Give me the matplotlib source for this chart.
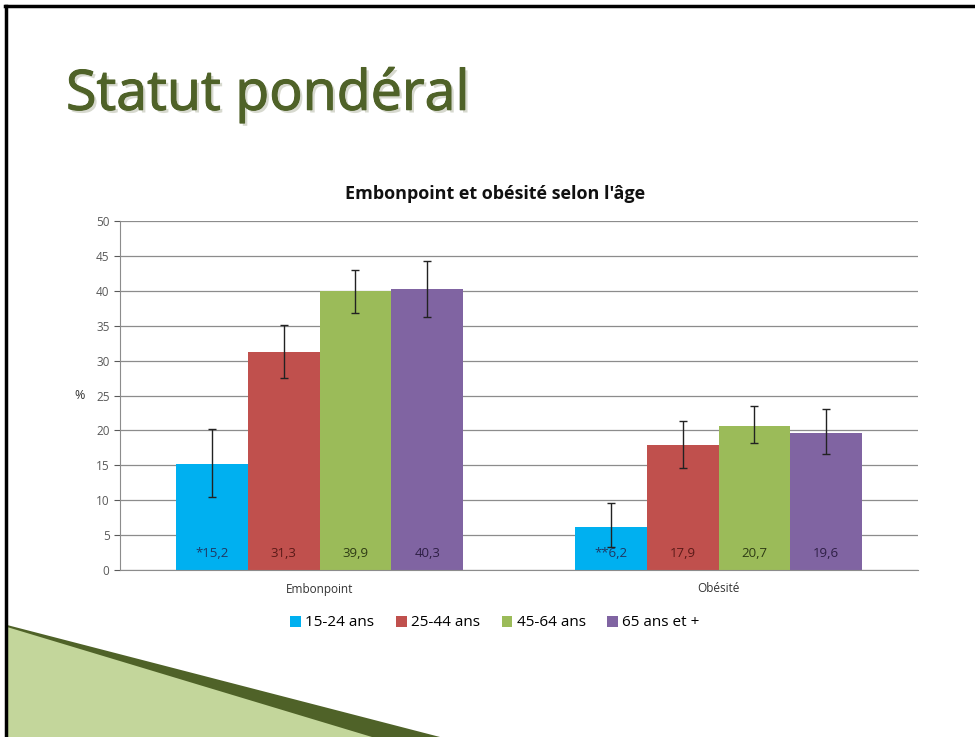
import matplotlib.pyplot as plt
import matplotlib.patheffects as pe
from matplotlib.patches import Polygon
import numpy as np

# ------------------------------
# Data
# ------------------------------
categories = ["Embonpoint", "Obésité"]
age_groups = ["15-24 ans", "25-44 ans", "45-64 ans", "65 ans et +"]

values = {
    "15-24 ans": [15.2, 6.2],
    "25-44 ans": [31.3, 17.9],
    "45-64 ans": [39.9, 20.7],
    "65 ans et +": [40.3, 19.6],
}
# confidence interval bounds (low, high)
ci_low = {
    "15-24 ans": [10.4, 3.3],
    "25-44 ans": [27.5, 14.6],
    "45-64 ans": [36.8, 18.2],
    "65 ans et +": [36.2, 16.6],
}
ci_high = {
    "15-24 ans": [20.2, 9.6],
    "25-44 ans": [35.1, 21.3],
    "45-64 ans": [43.0, 23.5],
    "65 ans et +": [44.3, 23.0],
}
value_labels = {
    "15-24 ans": ["*15,2", "**6,2"],
    "25-44 ans": ["31,3", "17,9"],
    "45-64 ans": ["39,9", "20,7"],
    "65 ans et +": ["40,3", "19,6"],
}

colors = ["#00B0F0", "#C0504D", "#9BBB59", "#8064A2"]
label_colors = ["#1F3864", "#5A1A18", "#2E3B14", "#2E1F45"]

plt.rcParams['font.family'] = ['Open Sans', 'DejaVu Sans']

fig = plt.figure(figsize=(9.75, 7.37), dpi=100)

# ------------------------------
# Slide decoration
# ------------------------------
W, H = 975, 737
def px(x, y):
    return (x / W, 1 - y / H)

fig.add_artist(Polygon([px(7, 625), px(440, 737), px(7, 737)], closed=True,
                       transform=fig.transFigure, facecolor="#4F6228", edgecolor="none"))
fig.add_artist(Polygon([px(7, 627), px(372, 737), px(7, 737)], closed=True,
                       transform=fig.transFigure, facecolor="#C3D69B", edgecolor="none"))
fig.add_artist(plt.Line2D([px(6, 0)[0], px(6, 0)[0]], [px(0, 6)[1], 0],
                          transform=fig.transFigure, color="black", lw=2.5))
fig.add_artist(plt.Line2D([px(5, 0)[0], 1], [px(0, 6)[1], px(0, 6)[1]],
                          transform=fig.transFigure, color="black", lw=2.5))

fig.text(66 / W, 1 - 95 / H, "Statut pondéral", fontsize=40,
         color="#4F6228", va="center", ha="left",
         path_effects=[pe.withSimplePatchShadow(offset=(2, -2), shadow_rgbFace="#b0b4a0", alpha=0.5),
                       pe.Stroke(linewidth=0.8, foreground="#4F6228"), pe.Normal()])

# ------------------------------
# Chart
# ------------------------------
ax = fig.add_axes([120 / W, 1 - 570 / H, (918 - 120) / W, (570 - 221) / H])

x = np.arange(len(categories))
width = 0.18
offsets = (np.arange(len(age_groups)) - 1.5) * width

for i, grp in enumerate(age_groups):
    vals = np.array(values[grp])
    lo = vals - np.array(ci_low[grp])
    hi = np.array(ci_high[grp]) - vals
    ax.bar(x + offsets[i], vals, width, color=colors[i], label=grp, zorder=2)
    ax.errorbar(x + offsets[i], vals, yerr=[lo, hi], fmt="none", ecolor="#222222",
                elinewidth=1, capsize=3, capthick=1, zorder=3)
    for j, lab in enumerate(value_labels[grp]):
        ax.text(x[j] + offsets[i], 2.4, lab, ha="center", va="center",
                fontsize=9.5, color=label_colors[i], zorder=4)

ax.set_xlim(-0.5, 1.5)
ax.set_ylim(0, 50)
ax.set_yticks(np.arange(0, 51, 5))
ax.set_xticks(x)
ax.set_xticklabels(categories, fontsize=8.5, color="#333333")
ax.tick_params(axis="y", labelsize=8.5, colors="#595959", length=4, width=0.8)
ax.tick_params(axis="x", length=0, pad=9)
ax.yaxis.grid(True, color="#8c8c8c", lw=0.9, zorder=0)
ax.set_axisbelow(True)
for s in ["top", "right"]:
    ax.spines[s].set_visible(False)
ax.spines["left"].set_color("#8c8c8c")
ax.spines["bottom"].set_color("#8c8c8c")
ax.set_ylabel("%", rotation=0, fontsize=9, color="#333333", labelpad=12, va="center")

fig.text(495 / W, 1 - 194 / H, "Embonpoint et obésité selon l'âge", fontsize=13,
         fontweight="bold", color="#111111", ha="center", va="center")

fig.legend(loc="center", bbox_to_anchor=(495 / W, 1 - 623 / H), ncol=4,
           frameon=False, fontsize=11, handlelength=0.7, handleheight=0.7,
           handletextpad=0.3, columnspacing=1.4)

fig.savefig("out.png", dpi=100, facecolor="white")
